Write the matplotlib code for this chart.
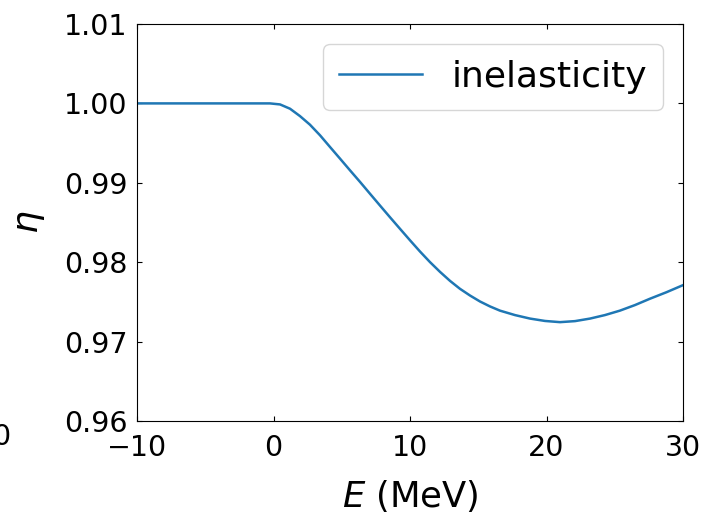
import matplotlib
matplotlib.use('Agg')
import matplotlib.pyplot as plt
import numpy as np

# inelasticity eta vs energy E (MeV)
energy = [-10, -5, -0.26, 0.48, 1.21, 1.94, 2.67, 3.41, 4.14, 4.87, 5.60,
          6.34, 7.07, 7.80, 8.53, 9.27, 10.0, 10.73, 11.46, 12.20, 12.93,
          13.66, 14.40, 15.13, 15.86, 16.59, 17.69, 18.79, 19.89, 20.99,
          22.09, 23.19, 24.28, 25.38, 26.48, 27.58, 28.79, 30.0]
eta = [1.0, 1.0, 1.0, 0.99987, 0.99933, 0.99840, 0.99732, 0.99598, 0.99451,
       0.99305, 0.99158, 0.99011, 0.98862, 0.98714, 0.98567, 0.98420,
       0.98276, 0.98135, 0.98002, 0.97878, 0.97765, 0.97665, 0.97580,
       0.97505, 0.97443, 0.97390, 0.97334, 0.97290, 0.97260, 0.97245,
       0.97258, 0.97290, 0.97334, 0.97390, 0.97460, 0.97540, 0.97622,
       0.97711]

xticks = [-10, 0, 10, 20, 30]
yticks = [0.96, 0.97, 0.98, 0.99, 1.00, 1.01]

fig = plt.figure(figsize=(7.02, 5.14), dpi=100)
ax = fig.add_axes([137/702, 1-421/514, (683-137)/702, (421-24)/514])

ax.plot(energy, eta, color='#1f77b4', lw=1.8, label='inelasticity')

ax.set_xlim(-10, 30)
ax.set_ylim(0.96, 1.01)
ax.set_xticks(xticks)
ax.set_yticks(yticks)
ax.set_yticklabels(['%.2f' % v for v in yticks])
ax.tick_params(direction='in', top=True, right=True, labelsize=20.5)
ax.tick_params(axis='y', pad=7)
ax.tick_params(axis='x', pad=9)

ax.set_xlabel('$E$ (MeV)', fontsize=25.5, labelpad=12)
ax.set_ylabel(r'$\eta$', fontsize=26, labelpad=12)
ax.legend(loc='upper right', fontsize=26, handlelength=2.3,
          borderpad=0.45, borderaxespad=0.55)

# leftover tick label from the neighbouring panel
fig.text(0.0015, 1-437/514, '0', ha='center', va='center', fontsize=20.5)

fig.savefig('out.png', dpi=100)
